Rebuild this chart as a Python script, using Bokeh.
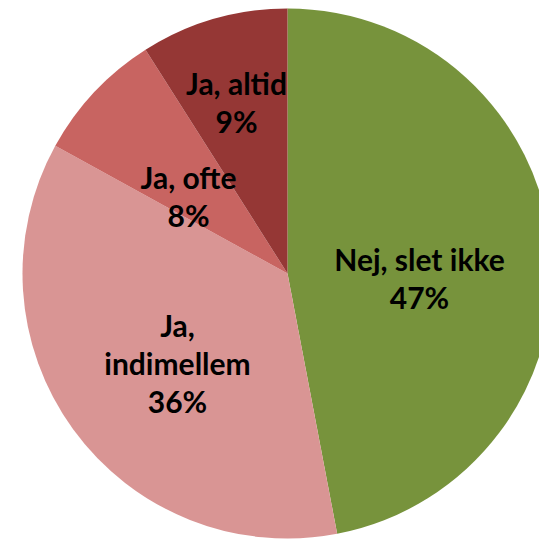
import math
from bokeh.plotting import figure
from bokeh.models import Range1d, ColumnDataSource
from bokeh.core.properties import value
from bokeh.embed import file_html
from bokeh.resources import INLINE

# ---- data ----
categories = ["Nej, slet ikke", "Ja, indimellem", "Ja, ofte", "Ja, altid"]
percents = [47, 36, 8, 9]
label_names = ["Nej, slet ikke", "Ja,\nindimellem", "Ja, ofte", "Ja, altid"]
colors = ["#77933C", "#D99594", "#C86461", "#953735"]

# ---- layout (screen-pixel geometry) ----
W, H = 539, 540
X0, Y0 = 0, 0            # observed page offset of the figure
CX, CY = 287, 273        # pie centre in screen px
R = 265
# label block offsets from pie centre (screen px, y down)
label_offsets = [(132, 4.5), (-110, 89.5), (-99, -78), (-51, -171.5)]
LINE_H = 38
FONT_SIZE = "30px"

p = figure(width=W, height=H, output_backend="svg", toolbar_location=None,
           x_range=Range1d(X0, X0 + W), y_range=Range1d(540 - (Y0 + H), 540 - Y0),
           x_axis_location=None, y_axis_location=None, min_border=0)
p.grid.visible = False
p.outline_line_color = None
p.background_fill_color = "white"
p.border_fill_color = "white"

total = sum(percents)
starts, ends = [], []
cum = 0.0
for v in percents:
    starts.append(math.pi / 2 - 2 * math.pi * cum / total)
    cum += v
    ends.append(math.pi / 2 - 2 * math.pi * cum / total)

src = ColumnDataSource(dict(start=starts, end=ends, color=colors, cat=categories))
p.wedge(x=CX, y=540 - CY, radius=R, start_angle="start", end_angle="end",
        direction="clock", fill_color="color", line_color=None, source=src)

xs, ys, txt = [], [], []
for name, pct, (dx, dy) in zip(label_names, percents, label_offsets):
    lines = name.split("\n") + [f"{pct}%"]
    n = len(lines)
    for i, line in enumerate(lines):
        base = CY + dy + (i - (n - 1) / 2) * LINE_H
        xs.append(CX + dx)
        ys.append(540 - base)
        txt.append(line)

p.text(x=xs, y=ys, text=txt, text_align="center", text_baseline="alphabetic",
       text_font=value("Lato"), text_font_style="bold", text_font_size=FONT_SIZE,
       text_color="black")

open("out.html", "w").write(file_html(p, INLINE))
